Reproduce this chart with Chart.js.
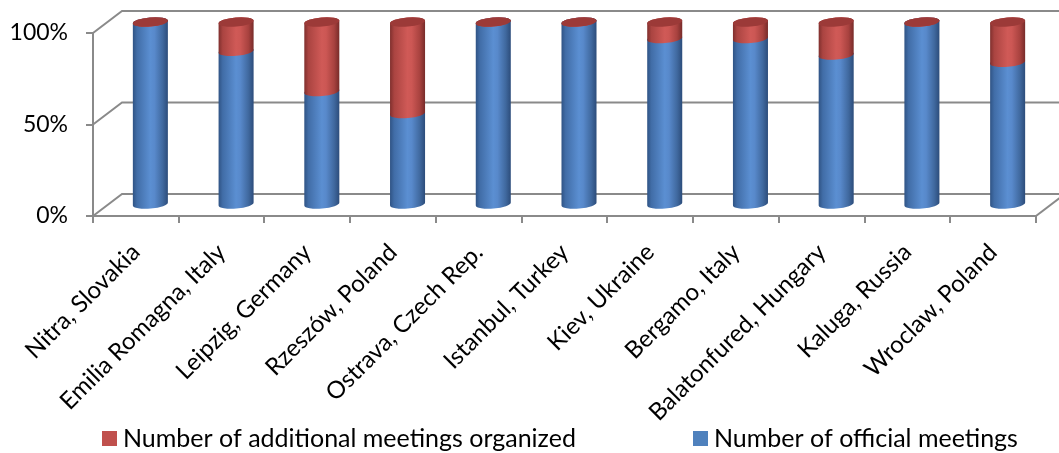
<!DOCTYPE html>
<html>
<head>
<meta charset="utf-8">
<script src="https://cdn.jsdelivr.net/npm/chart.js@4.4.1/dist/chart.umd.min.js"></script>
<style>
  html, body { margin: 0; padding: 0; background: #fff; }
  #wrap { width: 1059px; height: 453px; position: relative; }
</style>
</head>
<body>
<div id="wrap"><canvas id="chart" width="1059" height="453"></canvas></div>
<script>
// Meeting places and the share (%) of each meeting type held there
const cities = [
  'Nitra, Slovakia', 'Emilia Romagna, Italy', 'Leipzig, Germany', 'Rzeszów, Poland',
  'Ostrava, Czech Rep.', 'Istanbul, Turkey', 'Kiev, Ukraine', 'Bergamo, Italy',
  'Balatonfured, Hungary', 'Kaluga, Russia', 'Wroclaw, Poland'
];
const officialMeetings   = [100, 84, 62, 50, 100, 100, 91, 91, 82, 100, 78];
const additionalMeetings = [0, 16, 38, 50, 0, 0, 9, 9, 18, 0, 22];
const seriesNames = ['Number of official meetings', 'Number of additional meetings organized'];
const percentTicks = [0, 50, 100];

const FONT = 'Lato, "Open Sans", sans-serif';
const LINE = '#8a8a8a';
const DEPTH_X = 29, DEPTH_Y = -22;   // offset of the back wall from the front plane

const palette = {
  blue: { body: [[0, '#2f5384'], [0.12, '#416da7'], [0.5, '#5b8fd2'], [0.62, '#5889cb'], [0.85, '#40699f'], [1, '#2c4c7a']], cap: '#4a78b3' },
  red:  { body: [[0, '#7f2f2d'], [0.12, '#aa4441'], [0.5, '#d05a57'], [0.62, '#cc5754'], [0.85, '#a8423f'], [1, '#772b29']], cap: '#9c3a38' }
};
const seriesColors = [palette.blue, palette.red];

// Back wall, side wall and floor edges of the 3-D box
const wallPlugin = {
  id: 'wall',
  beforeDatasetsDraw(chart) {
    const { ctx, chartArea, scales } = chart;
    ctx.save();
    ctx.strokeStyle = LINE;
    ctx.lineWidth = 2;
    percentTicks.forEach(v => {
      const y = scales.y.getPixelForValue(v);
      ctx.beginPath();
      ctx.moveTo(chartArea.left, y);
      ctx.lineTo(chartArea.left + DEPTH_X, y + DEPTH_Y);
      ctx.lineTo(chartArea.right + DEPTH_X, y + DEPTH_Y);
      ctx.stroke();
    });
    const yb = scales.y.getPixelForValue(0);
    ctx.beginPath();
    ctx.moveTo(chartArea.right, yb);
    ctx.lineTo(chartArea.right + DEPTH_X, yb + DEPTH_Y);
    ctx.stroke();
    ctx.restore();
  }
};

function bodyGradient(ctx, x0, x1, stops) {
  const g = ctx.createLinearGradient(x0, 0, x1, 0);
  stops.forEach(s => g.addColorStop(s[0], s[1]));
  return g;
}

// Cylinders built on the stacked bar elements, set half way into the box
const cylinderPlugin = {
  id: 'cylinders',
  afterDatasetsDraw(chart) {
    const { ctx } = chart;
    const metas = chart.data.datasets.map((d, i) => chart.getDatasetMeta(i));
    const rot = -0.085, ry = 4.6;
    ctx.save();
    cities.forEach((c, j) => {
      metas.forEach((meta, i) => {
        const el = meta.data[j];
        const cx = el.x + DEPTH_X / 2;
        const top = el.y + DEPTH_Y / 2;
        const base = el.base + DEPTH_Y / 2;
        const rx = el.width / 2;
        const col = seriesColors[i];
        ctx.beginPath();
        ctx.ellipse(cx, base, rx, ry, rot, 0, Math.PI, false);
        ctx.ellipse(cx, top, rx, ry, rot, Math.PI, Math.PI * 2, false);
        ctx.closePath();
        ctx.fillStyle = bodyGradient(ctx, cx - rx, cx + rx, col.body);
        ctx.fill();
        if (i === metas.length - 1) {
          ctx.beginPath();
          ctx.ellipse(cx, top, rx, ry, rot, 0, Math.PI * 2);
          ctx.fillStyle = col.cap;
          ctx.fill();
        }
      });
    });
    ctx.restore();
  }
};

// Legend row under the axis labels (top series listed first)
const legendPlugin = {
  id: 'legendRow',
  afterDraw(chart) {
    const { ctx } = chart;
    const items = [
      { text: seriesNames[1], color: '#c0504d', x: 102 },
      { text: seriesNames[0], color: '#4f81bd', x: 693 }
    ];
    ctx.save();
    ctx.font = '25px ' + FONT;
    ctx.textBaseline = 'middle';
    items.forEach(it => {
      ctx.fillStyle = it.color;
      ctx.fillRect(it.x, 431, 15, 15);
      ctx.fillStyle = '#000';
      ctx.fillText(it.text, it.x + 21, 439);
    });
    ctx.restore();
  }
};

new Chart(document.getElementById('chart'), {
  type: 'bar',
  data: {
    labels: cities,
    datasets: [
      { label: seriesNames[0], data: officialMeetings, backgroundColor: 'rgba(0,0,0,0)', borderWidth: 0 },
      { label: seriesNames[1], data: additionalMeetings, backgroundColor: 'rgba(0,0,0,0)', borderWidth: 0 }
    ]
  },
  options: {
    responsive: false,
    animation: false,
    devicePixelRatio: 1,
    layout: { padding: { left: 0, right: 23, top: 33, bottom: 0 } },
    datasets: { bar: { categoryPercentage: 1, barPercentage: 0.41 } },
    plugins: { legend: { display: false }, tooltip: { enabled: false } },
    scales: {
      x: {
        stacked: true,
        grid: { display: true, drawOnChartArea: false, drawTicks: true, tickLength: 7, color: LINE, lineWidth: 2, offset: true },
        border: { display: true, color: LINE, width: 2 },
        ticks: { autoSkip: false, minRotation: 45, maxRotation: 45, padding: 15, labelOffset: 0, color: '#000', font: { family: FONT, size: 24 } },
        afterFit(scale) { scale.height = 453 - 216; }
      },
      y: {
        stacked: true,
        min: 0, max: 100,
        grid: { display: true, drawOnChartArea: false, drawTicks: true, tickLength: 7, color: LINE, lineWidth: 2 },
        border: { display: true, color: LINE, width: 2 },
        ticks: { stepSize: 50, padding: 18, color: '#000', font: { family: FONT, size: 23 }, callback: v => v + '%' },
        afterFit(scale) { scale.width = 93; }
      }
    }
  },
  plugins: [wallPlugin, cylinderPlugin, legendPlugin]
});
</script>
</body>
</html>
